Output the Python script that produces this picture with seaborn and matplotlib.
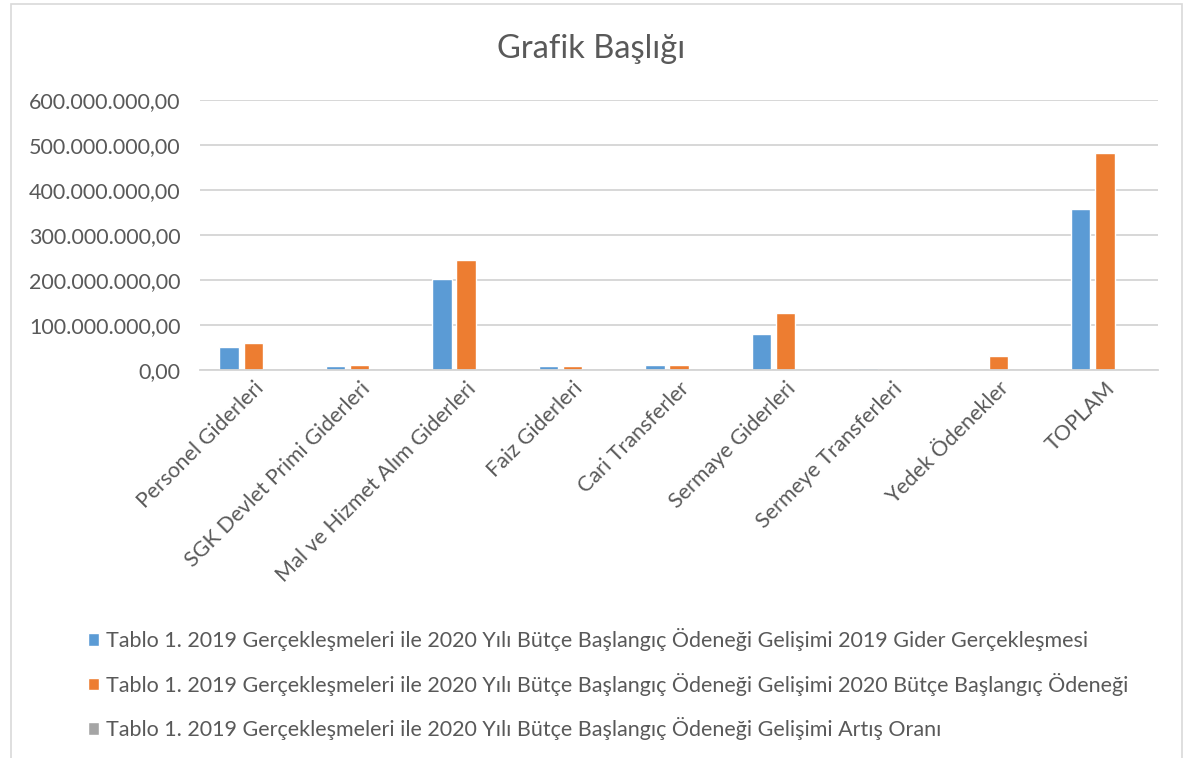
import matplotlib
matplotlib.use("Agg")
import matplotlib.pyplot as plt
import matplotlib.ticker as mticker
import matplotlib.patches as mpatches
import pandas as pd
import seaborn as sns

# categories and series (TL)
kalemler = ["Personel Giderleri", "SGK Devlet Primi Giderleri", "Mal ve Hizmet Alım Giderleri",
            "Faiz Giderleri", "Cari Transferler", "Sermaye Giderleri", "Sermeye Transferleri",
            "Yedek Ödenekler", "TOPLAM"]
gider_2019 = [51e6, 8e6, 202e6, 8e6, 11e6, 80e6, 5e6, 0, 357e6]
butce_2020 = [60e6, 11e6, 244e6, 8e6, 11e6, 126e6, 0.5e6, 31e6, 483e6]
artis_orani = [0.18, 0.35, 0.21, 0.0, 0.0, 0.57, -0.9, 0.0, 0.35]

seri_adlari = [
    "Tablo 1. 2019 Gerçekleşmeleri ile 2020 Yılı Bütçe Başlangıç Ödeneği Gelişimi 2019 Gider Gerçekleşmesi",
    "Tablo 1. 2019 Gerçekleşmeleri ile 2020 Yılı Bütçe Başlangıç Ödeneği Gelişimi 2020 Bütçe Başlangıç Ödeneği",
    "Tablo 1. 2019 Gerçekleşmeleri ile 2020 Yılı Bütçe Başlangıç Ödeneği Gelişimi Artış Oranı",
]
renkler = ["#5B9BD5", "#ED7D31", "#A5A5A5"]

rows = []
for seri, vals in zip(seri_adlari, [gider_2019, butce_2020, artis_orani]):
    for k, v in zip(kalemler, vals):
        rows.append({"kalem": k, "seri": seri, "deger": v})
df = pd.DataFrame(rows)

sns.set_style("white")
plt.rcParams["font.family"] = ["Lato", "DejaVu Sans"]

fig = plt.figure(figsize=(11.83, 7.58), dpi=100)
ax = fig.add_axes([0.169, 0.512, 0.81, 0.356])

sns.barplot(data=df, x="kalem", y="deger", hue="seri", palette=renkler,
            width=0.68, gap=0.2, ax=ax, saturation=1)

ax.set_ylim(0, 600e6)
ax.set_yticks([0, 100e6, 200e6, 300e6, 400e6, 500e6, 600e6])
fmt = lambda v, p: f"{v:,.2f}".replace(",", "X").replace(".", ",").replace("X", ".")
ax.yaxis.set_major_formatter(mticker.FuncFormatter(fmt))
ax.grid(axis="y", color="#D4D4D4", linewidth=1.3)
ax.set_axisbelow(True)
for s in ["top", "right", "left"]:
    ax.spines[s].set_visible(False)
ax.spines["bottom"].set_color("#D4D4D4")
ax.spines["bottom"].set_linewidth(1.3)
ax.tick_params(axis="both", length=0, colors="#595959", labelsize=15.5)
ax.tick_params(axis="y", pad=14)
ax.tick_params(axis="x", pad=6)
ax.set_xlabel("")
ax.set_ylabel("")
plt.setp(ax.get_xticklabels(), rotation=45, ha="right", rotation_mode="anchor")

fig.text(0.5, 0.935, "Grafik Başlığı", ha="center", va="center", fontsize=23.5, color="#595959")

handles, labels = ax.get_legend_handles_labels()
ax.get_legend().remove()
fig.legend(handles, labels, loc="upper left", bbox_to_anchor=(0.058, 0.197), frameon=False,
           fontsize=15.5, labelcolor="#595959", labelspacing=1.0, handlelength=0.5,
           handleheight=0.5, handletextpad=0.35)

# chart frame
fig.patches.append(mpatches.Rectangle((0.009, -0.01), 0.99, 1.005, transform=fig.transFigure,
                                      fill=False, edgecolor="#D9D9D9", linewidth=1.2))

fig.savefig("out.png", dpi=100)
